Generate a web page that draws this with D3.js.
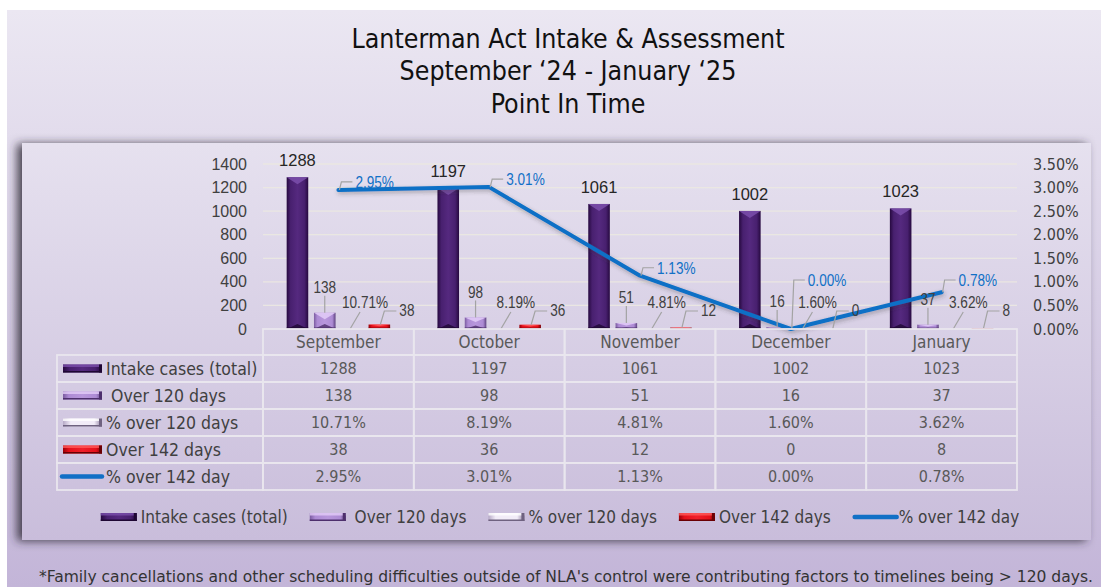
<!DOCTYPE html>
<html><head><meta charset="utf-8">
<script src="https://cdn.jsdelivr.net/npm/d3@7"></script>
<style>
html,body{margin:0;padding:0;background:#fff;}
svg{display:block;}
.cond{font-family:"DejaVu Sans Condensed","DejaVu Sans",sans-serif;font-stretch:condensed;}
.arial{font-family:"Liberation Sans",Arial,sans-serif;}
</style></head>
<body>
<svg id="chart" width="1101" height="587"></svg>
<script>
// ---------- data ----------
const categories = ["September", "October", "November", "December", "January"];
const intakeTotal = [1288, 1197, 1061, 1002, 1023];
const over120 = [138, 98, 51, 16, 37];
const pctOver120 = [0.1071, 0.0819, 0.0481, 0.0160, 0.0362];
const over142 = [38, 36, 12, 0, 8];
const pctOver142 = [0.0295, 0.0301, 0.0113, 0.0000, 0.0078];
const leftTicks = [0, 200, 400, 600, 800, 1000, 1200, 1400];
const rightTicks = [0, 0.005, 0.01, 0.015, 0.02, 0.025, 0.03, 0.035];
const seriesNames = ["Intake cases (total)", " Over 120 days", "% over 120 days", "Over 142 days", "% over 142 day"];
const titleLines = ["Lanterman Act Intake & Assessment", "September \u201824 - January \u201825", "Point In Time"];
const footnote = "*Family cancellations and other scheduling difficulties outside of NLA's control were contributing factors to timelines being > 120 days.";

// ---------- setup ----------
const svg = d3.select("#chart");
const defs = svg.append("defs");

function lg(id, stops, x2, y2) {
  const g = defs.append("linearGradient").attr("id", id)
    .attr("x1", 0).attr("y1", 0).attr("x2", x2).attr("y2", y2);
  stops.forEach(s => g.append("stop").attr("offset", s[0]).attr("stop-color", s[1]));
}
lg("pageBg", [[0, "#ebe7f2"], [1, "#c3b5d8"]], 0, 1);
lg("frameBg", [[0, "#e6e1ef"], [1, "#c9bddb"]], 0, 1);
lg("gIntake", [[0, "#26093f"], [0.18, "#48206f"], [0.5, "#55297f"], [0.82, "#48206f"], [1, "#26093f"]], 1, 0);
lg("gOver120", [[0, "#7b5ca0"], [0.15, "#ad8bd4"], [0.5, "#b897dc"], [0.85, "#ad8bd4"], [1, "#5e4280"]], 1, 0);
lg("gPct120", [[0, "#b6a9c6"], [0.2, "#f2ecf8"], [0.8, "#f2ecf8"], [1, "#8c7c9e"]], 1, 0);
lg("gOver142", [[0, "#9a0008"], [0.15, "#e5101a"], [0.5, "#f0202a"], [0.85, "#e5101a"], [1, "#7a0006"]], 1, 0);

const fShadow = defs.append("filter").attr("id", "frameShadow")
  .attr("x", "-5%").attr("y", "-10%").attr("width", "110%").attr("height", "120%");
fShadow.append("feDropShadow").attr("dx", -5).attr("dy", 1).attr("stdDeviation", 5)
  .attr("flood-color", "#2e2936").attr("flood-opacity", 0.85);
const lShadow = defs.append("filter").attr("id", "lineShadow")
  .attr("x", "-5%").attr("y", "-20%").attr("width", "110%").attr("height", "140%");
lShadow.append("feDropShadow").attr("dx", 1).attr("dy", 2).attr("stdDeviation", 2)
  .attr("flood-color", "#333").attr("flood-opacity", 0.35);

const styles = [
  {fill: "url(#gIntake)", top: "#7b4fab", bottom: "#1e0733"},
  {fill: "url(#gOver120)", top: "#e3cdf8", bottom: "#4d2f6c"},
  {fill: "url(#gPct120)", top: "#ffffff", bottom: "#6f6280"},
  {fill: "url(#gOver142)", top: "#ff5a5a", bottom: "#6a0004"}
];
const lineColor = "#1170c6";

// background
svg.append("rect").attr("x", 7).attr("y", 10).attr("width", 1094).attr("height", 577).attr("fill", "url(#pageBg)");
// frame
svg.append("rect").attr("x", 22).attr("y", 143).attr("width", 1069).attr("height", 397)
  .attr("fill", "url(#frameBg)").attr("filter", "url(#frameShadow)");

// title
titleLines.forEach((t, i) => {
  svg.append("text").attr("class", "cond").attr("x", 568).attr("y", 38 + i * 32.5)
    .attr("text-anchor", "middle").attr("dominant-baseline", "central")
    .attr("font-size", 26.5).attr("fill", "#111").text(t);
});

// footnote
svg.append("text").attr("class", "cond").attr("x", 566).attr("y", 577)
  .attr("text-anchor", "middle").attr("dominant-baseline", "central")
  .attr("font-size", 15.5).attr("fill", "#333").attr("textLength", 1054)
  .attr("lengthAdjust", "spacingAndGlyphs").text(footnote);

// ---------- scales ----------
const plotL = 263, plotR = 1017, yBase = 329, yTop = 164;
const x0 = d3.scaleBand().domain(categories).range([plotL, plotR]);
const bw = x0.bandwidth();
const groupHalf = 54.6;
const barKeys = [0, 1, 2, 3];
const x1 = d3.scaleBand().domain(barKeys).range([bw / 2 - groupHalf, bw / 2 + groupHalf])
  .paddingInner(0.21).paddingOuter(0.105);
const y = d3.scaleLinear().domain([0, 1400]).range([yBase, yTop]);
const y2 = d3.scaleLinear().domain([0, 0.035]).range([yBase, yTop]);

// gridlines
svg.append("g").selectAll("line").data(leftTicks.filter(d => d > 0)).join("line")
  .attr("x1", plotL).attr("x2", plotR).attr("y1", d => y(d)).attr("y2", d => y(d))
  .attr("stroke", "#ece9e2").attr("stroke-width", 1.3).attr("opacity", 0.9);

// axes
const axL = svg.append("g").attr("transform", `translate(${plotL},0)`)
  .call(d3.axisLeft(y).tickValues(leftTicks).tickSize(0).tickPadding(16).tickFormat(d3.format("d")));
axL.select(".domain").remove();
axL.selectAll("text").attr("class", "arial").attr("font-size", 16).attr("fill", "#404040");
const axR = svg.append("g").attr("transform", `translate(${plotR},0)`)
  .call(d3.axisRight(y2).tickValues(rightTicks).tickSize(0).tickPadding(16).tickFormat(d3.format(".2%")));
axR.select(".domain").remove();
axR.selectAll("text").attr("class", "cond").attr("font-size", 16).attr("fill", "#404040");

// ---------- bars ----------
function drawBar(g, x, w, yt, yb, st) {
  const h = Math.max(0, yb - yt);
  if (h <= 0.05) return;
  g.append("rect").attr("x", x).attr("y", yt).attr("width", w).attr("height", h).attr("fill", st.fill);
  const b = Math.min(7, h * 0.4);
  g.append("path").attr("d", `M${x},${yt}L${x + w},${yt}L${x + w / 2},${yt + b}Z`).attr("fill", st.top).attr("opacity", 0.85);
  const bb = Math.min(5, h * 0.3);
  g.append("path").attr("d", `M${x},${yb}L${x + w},${yb}L${x + w / 2},${yb - bb}Z`).attr("fill", st.bottom).attr("opacity", 0.8);
  g.append("rect").attr("x", x).attr("y", yb - Math.min(1.5, h * 0.3)).attr("width", w).attr("height", Math.min(1.5, h * 0.3)).attr("fill", st.bottom);
}
const barSeries = [intakeTotal, over120, pctOver120, over142];
const barsG = svg.append("g");
categories.forEach((c, i) => {
  barSeries.forEach((arr, s) => {
    drawBar(barsG, x0(c) + x1(s), x1.bandwidth(), y(arr[i]), y(0), styles[s]);
  });
});

// ---------- line ----------
const cx = c => x0(c) + bw / 2;
const line = d3.line().x((d, i) => cx(categories[i])).y(d => y2(d));
svg.append("path").datum(pctOver142).attr("d", line).attr("fill", "none")
  .attr("stroke", lineColor).attr("stroke-width", 4).attr("stroke-linejoin", "round")
  .attr("stroke-linecap", "round").attr("filter", "url(#lineShadow)");

// ---------- data labels ----------
const lab = svg.append("g");
const leader = (pts) => lab.append("path").attr("d", d3.line()(pts)).attr("fill", "none").attr("stroke", "#a3a3a3").attr("stroke-width", 1.2);
// narrow (Arial Narrow look) label: Liberation Sans compressed horizontally
function narrow(x, yy, txt, anchor, color) {
  return lab.append("text").attr("class", "arial")
    .attr("transform", `translate(${x},${yy}) scale(0.8,1)`)
    .attr("text-anchor", anchor).attr("dominant-baseline", "central")
    .attr("font-size", 17).attr("fill", color).text(txt);
}
categories.forEach((c, i) => {
  const bx = s => x0(c) + x1(s) + x1.bandwidth() / 2;
  // intake
  lab.append("text").attr("class", "arial").attr("x", bx(0)).attr("y", y(intakeTotal[i]) - 17)
    .attr("text-anchor", "middle").attr("dominant-baseline", "central").attr("font-size", 16.5).attr("fill", "#262626")
    .text(intakeTotal[i]);
  // over 120
  const t1 = y(over120[i]);
  const ly1 = Math.min(t1 - 26, 303);
  leader([[bx(1), t1], [bx(1), ly1 + 9]]);
  narrow(bx(1), ly1, over120[i], "middle", "#404040");
  // pct over 120
  leader([[bx(2) - 2, y(pctOver120[i])], [bx(2) + 8, 312]]);
  narrow(bx(2) + 13, 302, d3.format(".2%")(pctOver120[i]), "middle", "#404040");
  // over 142
  const t3 = y(over142[i]);
  leader([[bx(3) + 1, t3], [bx(3) + 5, 311], [bx(3) + 17, 311]]);
  narrow(bx(3) + 20, 310, over142[i], "start", "#404040");
  // pct over 142 (line)
  const px = cx(c), py = y2(pctOver142[i]);
  const ly = Math.min(py - 8, 280);
  leader([[px + 1, py], [px + 3, ly], [px + 14, ly]]);
  narrow(px + 17, ly, d3.format(".2%")(pctOver142[i]), "start", lineColor);
});

// ---------- data table ----------
const tbl = svg.append("g");
const cellStroke = "#e9e6ee";
const headTop = yBase, headBot = 355, rowH = 27, tabL = 57;
categories.forEach(c => {
  tbl.append("rect").attr("x", x0(c)).attr("y", headTop).attr("width", bw).attr("height", headBot - headTop)
    .attr("fill", "none").attr("stroke", cellStroke).attr("stroke-width", 1.8);
  tbl.append("text").attr("class", "cond").attr("x", cx(c)).attr("y", 342)
    .attr("text-anchor", "middle").attr("dominant-baseline", "central").attr("font-size", 17).attr("fill", "#595959").text(c);
});
const tableSeries = [intakeTotal, over120, pctOver120, over142, pctOver142];
const fmts = [d3.format("d"), d3.format("d"), d3.format(".2%"), d3.format("d"), d3.format(".2%")];
function swatch(g, s, x, yc, w) {
  if (s === 4) {
    g.append("line").attr("x1", x + 2).attr("x2", x + w - 2).attr("y1", yc).attr("y2", yc)
      .attr("stroke", lineColor).attr("stroke-width", 4.5).attr("stroke-linecap", "round");
  } else {
    const h = 8;
    g.append("rect").attr("x", x).attr("y", yc - h / 2).attr("width", w).attr("height", h).attr("fill", styles[s].fill);
    g.append("rect").attr("x", x).attr("y", yc - h / 2).attr("width", w).attr("height", 2.5).attr("fill", styles[s].top).attr("opacity", 0.8);
    g.append("rect").attr("x", x).attr("y", yc + h / 2 - 1.5).attr("width", w).attr("height", 1.5).attr("fill", styles[s].bottom);
    g.append("rect").attr("x", x + w - 3).attr("y", yc - h / 2).attr("width", 3).attr("height", h).attr("fill", styles[s].bottom);
  }
}
seriesNames.forEach((name, r) => {
  const top = headBot + r * rowH, yc = top + rowH / 2;
  tbl.append("rect").attr("x", tabL).attr("y", top).attr("width", plotL - tabL).attr("height", rowH)
    .attr("fill", "none").attr("stroke", cellStroke).attr("stroke-width", 1.8);
  swatch(tbl, r, r === 4 ? 60 : 63, yc, r === 4 ? 44 : 39);
  tbl.append("text").attr("class", "cond").attr("x", 106).attr("y", yc).attr("dominant-baseline", "central")
    .attr("font-size", 17.5).attr("fill", "#404040").style("white-space", "pre").text(name);
  categories.forEach((c, i) => {
    tbl.append("rect").attr("x", x0(c)).attr("y", top).attr("width", bw).attr("height", rowH)
      .attr("fill", "none").attr("stroke", cellStroke).attr("stroke-width", 1.8);
    tbl.append("text").attr("class", "cond").attr("x", cx(c)).attr("y", yc).attr("text-anchor", "middle")
      .attr("dominant-baseline", "central").attr("font-size", 16).attr("fill", "#595959").text(fmts[r](tableSeries[r][i]));
  });
});

// ---------- legend ----------
const leg = svg.append("g");
let lx = 0;
seriesNames.forEach((name, s) => {
  const sw = s === 4 ? 46 : 36;
  const g = leg.append("g");
  swatch(g, s, lx, 0, sw);
  const t = g.append("text").attr("class", "cond").attr("x", lx + sw + (s === 4 ? 0 : 4)).attr("y", 0)
    .attr("dominant-baseline", "central").attr("font-size", 17).attr("fill", "#404040")
    .style("white-space", "pre").text(name);
  lx += sw + (s === 4 ? 0 : 4) + t.node().getComputedTextLength() + 22;
});
const legW = lx - 22;
leg.attr("transform", `translate(${560 - legW / 2},517)`);
</script>
</body></html>
